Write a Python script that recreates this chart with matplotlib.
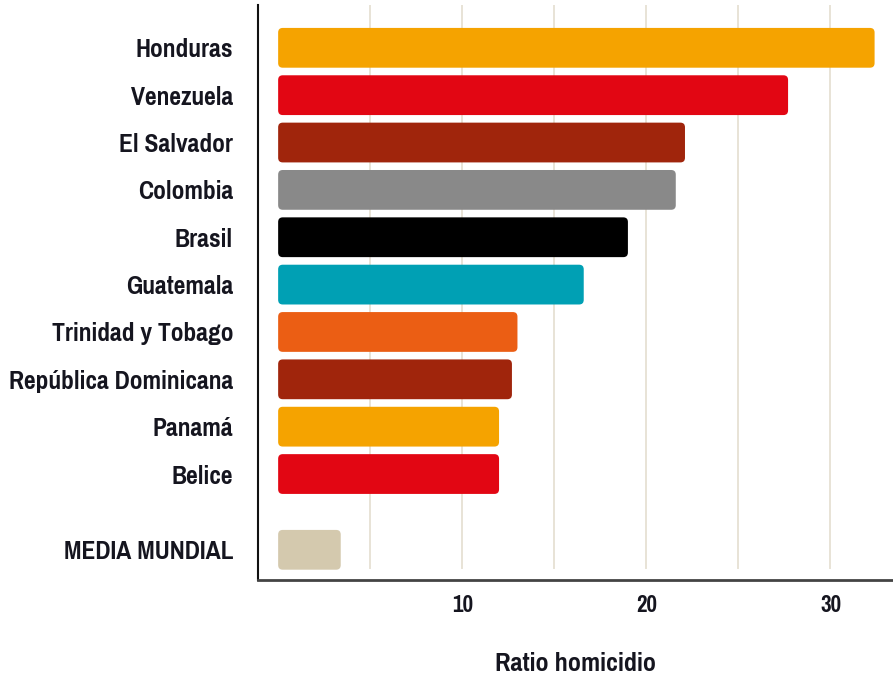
import matplotlib.pyplot as plt
from matplotlib import font_manager as fm
from matplotlib.patches import FancyBboxPatch

# data
paises = ["Honduras", "Venezuela", "El Salvador", "Colombia", "Brasil",
          "Guatemala", "Trinidad y Tobago", "República Dominicana", "Panamá",
          "Belice", "MEDIA MUNDIAL"]
ratio = [32.4, 27.7, 22.1, 21.6, 19.0, 16.6, 13.0, 12.7, 12.0, 12.0, 3.4]
posicion = [0, 1, 2, 3, 4, 5, 6, 7, 8, 9, 10.6]
colores = ["#F5A300", "#E20613", "#A0250C", "#898989", "#000000", "#00A0B4",
           "#EB5E14", "#A0250C", "#F5A300", "#E20613", "#D4C9AE"]
ticks_x = [10, 20, 30]
grid_x = [5, 10, 15, 20, 25, 30]

# look for a narrow bold face (the original uses a condensed font)
narrow = None
for f in fm.fontManager.ttflist:
    if ("Narrow" in f.name or "Condensed" in f.name or f.stretch == "condensed") \
            and f.weight in (700, "bold") and f.style == "normal":
        if narrow is None or "Narrow" in f.name:
            narrow = f.fname
if narrow:
    fuente = fm.FontProperties(fname=narrow)
else:
    fuente = fm.FontProperties(family="DejaVu Sans", weight="bold")
texto = "#15151f"

fig = plt.figure(figsize=(8.93, 6.74), dpi=100)
ax = fig.add_axes([0.289, 0.14, 0.711, 0.853])

ax.set_xlim(-1.09, 33.4)
ax.set_ylim(11.23, -0.91)

for g in grid_x:
    ax.axvline(g, ymin=0.02, ymax=1, color="#e8e3d6", lw=1.4, zorder=0)

barras = ax.barh(posicion, ratio, height=0.84, color=colores)
# swap the plain bars for rounded ones
for b in barras:
    x, y = b.get_x(), b.get_y()
    w, h = b.get_width(), b.get_height()
    b.set_visible(False)
    p = FancyBboxPatch((x, y), w, h,
                       boxstyle="round,pad=0,rounding_size=0.25",
                       mutation_aspect=0.39,
                       facecolor=b.get_facecolor(), edgecolor="none", zorder=2)
    ax.add_patch(p)

ax.set_yticks(posicion)
ax.set_yticklabels(paises, color=texto)
ax.set_xticks(ticks_x)
ax.set_xticklabels([str(t) for t in ticks_x], color=texto)
for t in ax.get_yticklabels():
    t.set_fontproperties(fuente)
    t.set_fontsize(20)
for t in ax.get_xticklabels():
    t.set_fontproperties(fuente)
    t.set_fontsize(18)
ax.tick_params(axis="y", length=0, pad=18)
ax.tick_params(axis="x", length=0, pad=11)

ax.set_xlabel("Ratio homicidio", fontproperties=fuente, fontsize=20.5,
              color=texto, labelpad=26)

for s in ["top", "right"]:
    ax.spines[s].set_visible(False)
ax.spines["left"].set_color("#111111")
ax.spines["left"].set_linewidth(1.5)
ax.spines["bottom"].set_color("#444444")
ax.spines["bottom"].set_linewidth(2)

fig.savefig("out.png", dpi=100)
